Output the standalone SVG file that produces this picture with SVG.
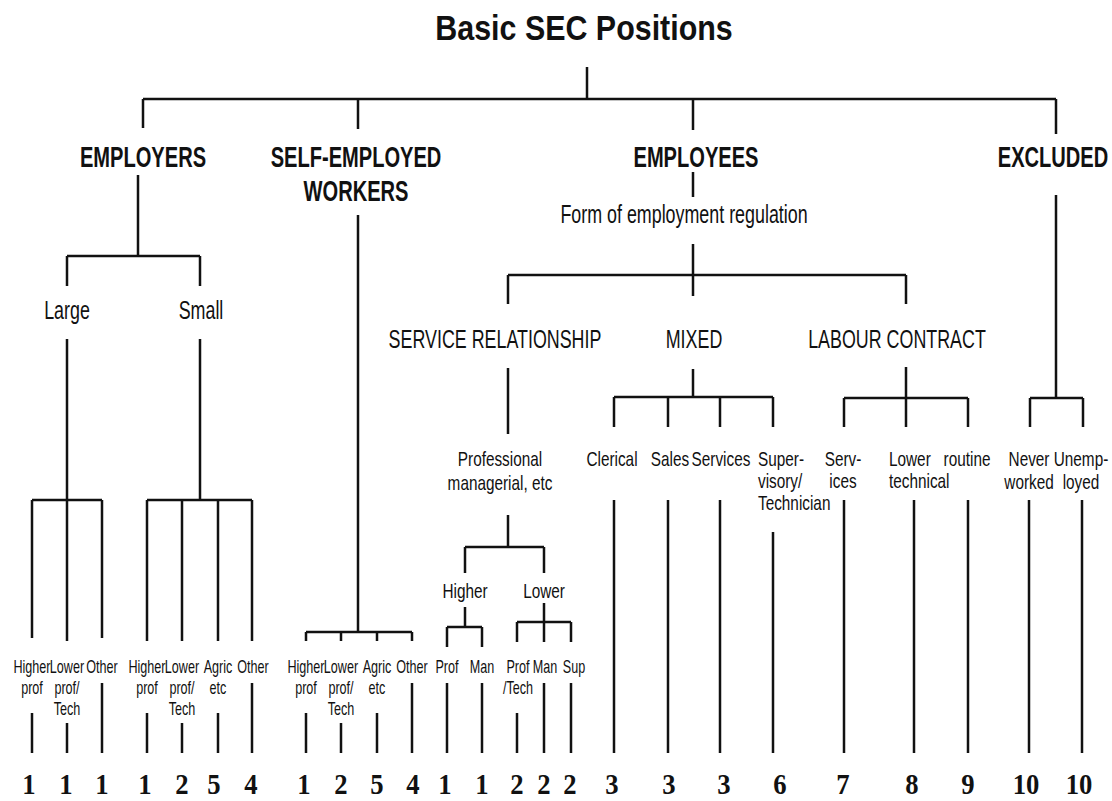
<svg xmlns="http://www.w3.org/2000/svg" width="1112" height="801" viewBox="0 0 1112 801">
<style>
.t{font-family:"Liberation Sans",Arial,sans-serif;fill:#111}
.title{font-size:36px;font-weight:bold;text-anchor:middle}
.h1{font-size:30px;font-weight:bold;text-anchor:middle}
.h2{font-size:25px;text-anchor:middle}
.l3{font-size:21px;text-anchor:middle}
.l3s{font-size:21px;text-anchor:start}
.l4{font-size:18px;text-anchor:middle}
.num{font-family:"Liberation Serif","Times New Roman",serif;font-size:29px;font-weight:bold;text-anchor:middle;fill:#111}
#connectors path{stroke:#111;stroke-width:2.5;fill:none}
</style>
<rect width="1112" height="801" fill="#fff"/>
<g id="connectors">
<path d="M587 67V99 M143 99H1056 M143 99V128 M358 99V129 M693 99V130 M1056 99V134"/>
<path d="M138 175V256 M67 256H200 M67 256V286 M200 256V286 M67 339V500 M32 500H102 M32 500V638 M67 500V641 M102 500V638 M32 713V753 M67 723V753 M102 683V753 M200 339V500 M147 500H252 M147 500V641 M182 500V641 M218 500V641 M252 500V641 M147 713V753 M182 723V753 M218 713V753 M252 683V753"/>
<path d="M358 215V632 M306 632H412 M306 632V641 M341 632V641 M377 632V641 M412 632V641 M306 713V753 M341 723V753 M377 713V753 M412 683V753"/>
<path d="M693 172V197 M693 244V296 M508 275H906 M508 275V304 M906 275V304"/>
<path d="M508 368V434 M508 515V547 M465 547H544 M465 547V573 M544 547V573 M465 607V627 M447 627H482 M447 627V647 M482 627V647 M544 603V622 M517 622H571 M517 622V642 M544 622V642 M571 622V642 M447 683V753 M482 683V753 M517 713V753 M544 683V753 M571 683V753"/>
<path d="M693 369V397 M614 397H773 M614 397V427 M668 397V427 M720 397V427 M773 397V427 M614 500V753 M668 500V753 M720 500V753 M773 532V753"/>
<path d="M906 367V398 M844 398H968 M844 398V427 M906 398V427 M968 398V427 M844 500V753 M914 500V753 M968 500V753"/>
<path d="M1056 195V398 M1030 398H1083 M1030 398V427 M1083 398V427 M1029 500V753 M1082 500V753"/>
</g>
<g id="title"><text class="t title" transform="translate(584 40) scale(.845 1)">Basic SEC Positions</text></g>
<g id="employers"><text class="t h1" transform="translate(143 167) scale(.67 1)">EMPLOYERS</text></g>
<g id="self-employed"><text class="t h1" transform="translate(356 167) scale(.67 1)"><tspan x="0">SELF-EMPLOYED</tspan><tspan x="0" dy="34">WORKERS</tspan></text></g>
<g id="employees"><text class="t h1" transform="translate(696 167) scale(.67 1)">EMPLOYEES</text></g>
<g id="excluded"><text class="t h1" transform="translate(1053 167) scale(.67 1)">EXCLUDED</text></g>
<g id="form-regulation"><text class="t h2" transform="translate(684 223) scale(.715 1)">Form of employment regulation</text></g>
<g id="large"><text class="t h2" transform="translate(67 319) scale(.715 1)">Large</text></g>
<g id="small"><text class="t h2" transform="translate(201 319) scale(.715 1)">Small</text></g>
<g id="service"><text class="t h2" transform="translate(495 348) scale(.715 1)">SERVICE RELATIONSHIP</text></g>
<g id="mixed"><text class="t h2" transform="translate(694 348) scale(.715 1)">MIXED</text></g>
<g id="labour"><text class="t h2" transform="translate(897 348) scale(.715 1)">LABOUR CONTRACT</text></g>
<g id="prof-man"><text class="t l3" transform="translate(500 466) scale(.73 1)"><tspan x="0">Professional</tspan><tspan x="0" dy="24">managerial, etc</tspan></text></g>
<g id="pm-higher"><text class="t l3" transform="translate(465 598) scale(.73 1)">Higher</text></g>
<g id="pm-lower"><text class="t l3" transform="translate(544 598) scale(.73 1)">Lower</text></g>
<g id="emp-large-higher"><text class="t l4" transform="translate(32 673) scale(.7 1)"><tspan x="0">Higher</tspan><tspan x="0" dy="21">prof</tspan></text><text class="num" transform="translate(29 794) scale(.92 1)">1</text></g>
<g id="emp-large-lower"><text class="t l4" transform="translate(67 673) scale(.7 1)"><tspan x="0">Lower</tspan><tspan x="0" dy="21">prof/</tspan><tspan x="0" dy="21">Tech</tspan></text><text class="num" transform="translate(66 794) scale(.92 1)">1</text></g>
<g id="emp-large-other"><text class="t l4" transform="translate(102 673) scale(.7 1)">Other</text><text class="num" transform="translate(102 794) scale(.92 1)">1</text></g>
<g id="emp-small-higher"><text class="t l4" transform="translate(147 673) scale(.7 1)"><tspan x="0">Higher</tspan><tspan x="0" dy="21">prof</tspan></text><text class="num" transform="translate(145 794) scale(.92 1)">1</text></g>
<g id="emp-small-lower"><text class="t l4" transform="translate(182 673) scale(.7 1)"><tspan x="0">Lower</tspan><tspan x="0" dy="21">prof/</tspan><tspan x="0" dy="21">Tech</tspan></text><text class="num" transform="translate(182 794) scale(.92 1)">2</text></g>
<g id="emp-small-agric"><text class="t l4" transform="translate(218 673) scale(.7 1)"><tspan x="0">Agric</tspan><tspan x="0" dy="21">etc</tspan></text><text class="num" transform="translate(214 794) scale(.92 1)">5</text></g>
<g id="emp-small-other"><text class="t l4" transform="translate(253 673) scale(.7 1)">Other</text><text class="num" transform="translate(251 794) scale(.92 1)">4</text></g>
<g id="self-higher"><text class="t l4" transform="translate(306 673) scale(.7 1)"><tspan x="0">Higher</tspan><tspan x="0" dy="21">prof</tspan></text><text class="num" transform="translate(304 794) scale(.92 1)">1</text></g>
<g id="self-lower"><text class="t l4" transform="translate(341 673) scale(.7 1)"><tspan x="0">Lower</tspan><tspan x="0" dy="21">prof/</tspan><tspan x="0" dy="21">Tech</tspan></text><text class="num" transform="translate(341 794) scale(.92 1)">2</text></g>
<g id="self-agric"><text class="t l4" transform="translate(377 673) scale(.7 1)"><tspan x="0">Agric</tspan><tspan x="0" dy="21">etc</tspan></text><text class="num" transform="translate(377 794) scale(.92 1)">5</text></g>
<g id="self-other"><text class="t l4" transform="translate(412 673) scale(.7 1)">Other</text><text class="num" transform="translate(413 794) scale(.92 1)">4</text></g>
<g id="hi-prof"><text class="t l4" transform="translate(447 673) scale(.7 1)">Prof</text><text class="num" transform="translate(445 794) scale(.92 1)">1</text></g>
<g id="hi-man"><text class="t l4" transform="translate(482 673) scale(.7 1)">Man</text><text class="num" transform="translate(482 794) scale(.92 1)">1</text></g>
<g id="lo-prof"><text class="t l4" transform="translate(518 673) scale(.7 1)"><tspan x="0">Prof</tspan><tspan x="0" dy="21">/Tech</tspan></text><text class="num" transform="translate(517 794) scale(.92 1)">2</text></g>
<g id="lo-man"><text class="t l4" transform="translate(545 673) scale(.7 1)">Man</text><text class="num" transform="translate(544 794) scale(.92 1)">2</text></g>
<g id="lo-sup"><text class="t l4" transform="translate(574 673) scale(.7 1)">Sup</text><text class="num" transform="translate(570 794) scale(.92 1)">2</text></g>
<g id="clerical"><text class="t l3" transform="translate(612 466) scale(.73 1)">Clerical</text><text class="num" transform="translate(612 794) scale(.92 1)">3</text></g>
<g id="sales"><text class="t l3" transform="translate(670 466) scale(.73 1)">Sales</text><text class="num" transform="translate(669 794) scale(.92 1)">3</text></g>
<g id="services"><text class="t l3" transform="translate(721 466) scale(.73 1)">Services</text><text class="num" transform="translate(724 794) scale(.92 1)">3</text></g>
<g id="supervisory"><text class="t l3s" transform="translate(758 466) scale(.73 1)"><tspan x="0">Super-</tspan><tspan x="0" dy="22">visory/</tspan><tspan x="0" dy="22">Technician</tspan></text><text class="num" transform="translate(780 794) scale(.92 1)">6</text></g>
<g id="lc-services"><text class="t l3" transform="translate(843 466) scale(.73 1)"><tspan x="0">Serv-</tspan><tspan x="0" dy="22">ices</tspan></text><text class="num" transform="translate(843 794) scale(.92 1)">7</text></g>
<g id="lc-lower-technical"><text class="t l3s" transform="translate(889 466) scale(.73 1)"><tspan x="0">Lower</tspan><tspan x="0" dy="22">technical</tspan></text><text class="num" transform="translate(912 794) scale(.92 1)">8</text></g>
<g id="lc-routine"><text class="t l3" transform="translate(967 466) scale(.73 1)">routine</text><text class="num" transform="translate(968 794) scale(.92 1)">9</text></g>
<g id="never-worked"><text class="t l3" transform="translate(1029 466) scale(.73 1)"><tspan x="0">Never</tspan><tspan x="0" dy="23">worked</tspan></text><text class="num" transform="translate(1026 794) scale(.92 1)">10</text></g>
<g id="unemployed"><text class="t l3" transform="translate(1081 466) scale(.73 1)"><tspan x="0">Unemp-</tspan><tspan x="0" dy="23">loyed</tspan></text><text class="num" transform="translate(1079 794) scale(.92 1)">10</text></g>
</svg>
